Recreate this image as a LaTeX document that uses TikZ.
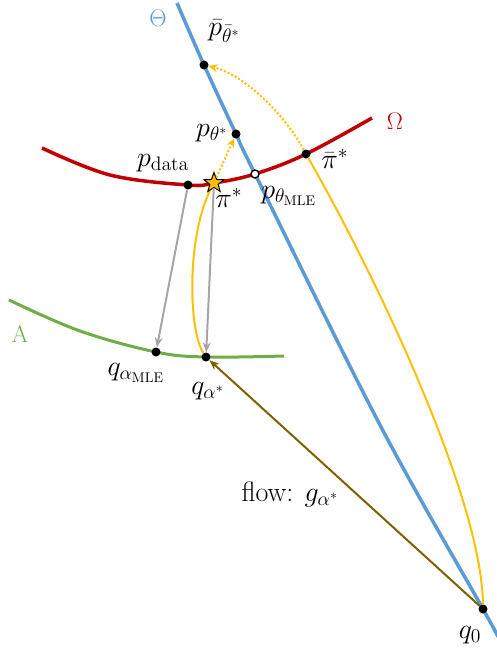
\RequirePackage{fix-cm}
\documentclass[tikz,border=0pt]{standalone}
\usepackage{amsmath,amssymb}
\usepackage{tikz}
\usetikzlibrary{arrows.meta,positioning,shapes.geometric}

\definecolor{thetablue}{RGB}{91,155,213}
\definecolor{omegared}{RGB}{192,0,0}
\definecolor{agreen}{RGB}{112,173,71}
\definecolor{yel}{RGB}{255,192,0}
\definecolor{projgray}{RGB}{166,166,166}
\definecolor{flowbrown}{RGB}{127,96,0}

\begin{document}
\begin{tikzpicture}[
    x=1pt,
    y=-1pt,
    dot/.style={circle,fill,inner sep=0pt,minimum size=9pt},
    odot/.style={circle,draw,fill=white,line width=1.4pt,inner sep=0pt,minimum size=8pt},
    lbl/.style={font=\fontsize{20}{24}\selectfont, inner sep=0pt, scale=1.4, transform shape},
    mlbl/.style={font=\fontsize{24}{28}\selectfont, inner sep=0pt},
    manif/.style={line width=3.5pt},
    yarc/.style={draw=yel, line width=2pt},
    ydot/.style={yarc, dash pattern=on 2pt off 2pt, -{Stealth[length=9pt,width=8pt]}},
    proj/.style={draw=projgray, line width=2pt, -{Stealth[length=10pt,width=8pt]}}
]
\useasboundingbox (0,0) rectangle (496,651);

% points on the manifolds
\coordinate (Pbar) at (204,65);
\coordinate (Pth) at (236,134);
\coordinate (Pmle) at (255,174);
\coordinate (Q0) at (483,609);
\coordinate (Pdata) at (188,185);
\coordinate (Star) at (214,183);
\coordinate (Pibar) at (306,154);
\coordinate (Qmle) at (156,352);
\coordinate (Qas) at (206,357);

% Theta, Omega, A
\draw[manif,thetablue] plot[smooth,tension=0.6] coordinates
    {(177,3) (Pbar) (Pth) (Pmle) (380,425) (Q0) (496,633)};
\draw[manif,omegared] plot[smooth,tension=0.6] coordinates
    {(42,148) (110,175) (Pdata) (Star) (Pmle) (Pibar) (372,118)};
\draw[manif,agreen,line width=3pt] plot[smooth,tension=0.6] coordinates
    {(9,300) (80,331) (Qmle) (Qas) (284,356)};

% dots
\node[dot] (pbar) at (Pbar) {};
\node[dot] (pth) at (Pth) {};
\node[odot] (pmle) at (Pmle) {};
\node[dot] (pdata) at (Pdata) {};
\node[dot] (pibar) at (Pibar) {};
\node[dot] (qmle) at (Qmle) {};
\node[dot] (qas) at (Qas) {};
\node[dot] (q0) at (Q0) {};

% yellow paths
\draw[yarc] (qas) .. controls (188,330) and (186,230) .. (Star);
\draw[yarc] (q0) .. controls (482,500) and (378,280) .. (pibar);
\node[star,star points=5,star point ratio=2.4,minimum size=21pt,inner sep=0pt,
      fill=yel,draw=black,line width=1pt] (star) at (Star) {};
\draw[ydot] (star) -- (pth);
\draw[ydot] (pibar) .. controls (285,115) and (245,75) .. (pbar);

% projections
\draw[proj] (pdata) -- (qmle);
\draw[proj] (star) -- (qas);

% flow
\draw[flowbrown, line width=2pt, -{Stealth[length=10pt,width=8pt]}] (q0) -- (qas);

% labels
\node[mlbl,thetablue] at (158,18) {$\Theta$};
\node[mlbl,omegared] at (395,121) {$\Omega$};
\node[mlbl,agreen] at (20,334) {$\mathrm{A}$};
\node[lbl,anchor=west] at (208,31) {$\bar{p}_{\bar{\theta}^*}$};
\node[lbl,anchor=east] at (228,133) {$p_{\theta^*}$};
\node[lbl] at (163,163) {$p_{\mathrm{data}}$};
\node[lbl,anchor=west] at (215,198) {$\pi^*$};
\node[lbl,anchor=west] at (261,196) {$p_{\theta_{\mathrm{MLE}}}$};
\node[lbl,anchor=west] at (321,159) {$\bar{\pi}^*$};
\node[lbl] at (136,373) {$q_{\alpha_{\mathrm{MLE}}}$};
\node[lbl,anchor=west] at (191,391) {$q_{\alpha^*}$};
\node[lbl] at (470,635) {$q_0$};
\node[lbl] at (290,494) {flow: $g_{\alpha^*}$};
\end{tikzpicture}
\end{document}
